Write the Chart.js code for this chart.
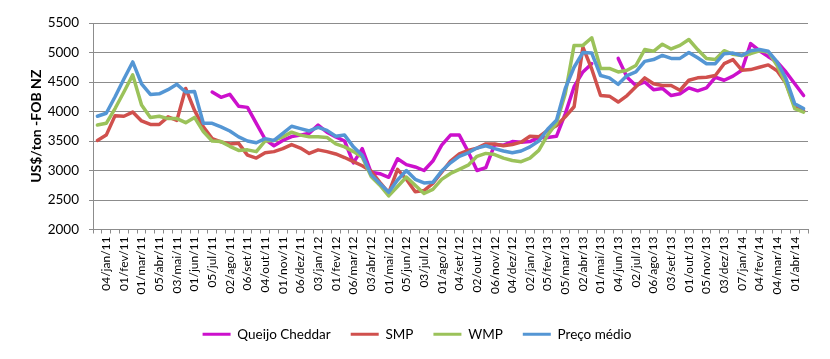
<!DOCTYPE html>
<html>
<head>
<meta charset="utf-8">
<script src="https://cdn.jsdelivr.net/npm/chart.js@4"></script>
<style>
  html, body { margin: 0; padding: 0; background: #fff; }
  canvas { display: block; }
</style>
</head>
<body>
<canvas id="chart" width="830" height="359"></canvas>
<script>
// Preços GDT quinzenais (US$/ton FOB NZ), dez/10 a abr/14

const dateLabels = [
  "04/jan/11", "01/fev/11", "01/mar/11", "05/abr/11", "03/mai/11", "01/jun/11", "05/jul/11", "02/ago/11",
  "06/set/11", "04/out/11", "01/nov/11", "06/dez/11", "03/jan/12", "01/fev/12", "06/mar/12", "03/abr/12",
  "01/mai/12", "05/jun/12", "03/jul/12", "01/ago/12", "04/set/12", "02/out/12", "06/nov/12", "04/dez/12",
  "02/jan/13", "05/fev/13", "05/mar/13", "02/abr/13", "01/mai/13", "04/jun/13", "02/jul/13", "06/ago/13",
  "03/set/13", "01/out/13", "05/nov/13", "03/dez/13", "07/jan/14", "04/fev/14", "04/mar/14", "01/abr/14",
];

// um leilão entre cada rótulo: só os ímpares levam data no eixo
const categories = [];
for (let i = 0; i < 81; i++) categories.push(i % 2 ? dateLabels[(i - 1) / 2] : "");

const cheddar = [
  null, null, null, null, null, null, null, null, null, null,
  null, null, null, 4330, 4240, 4290, 4090, 4070, 3800, 3530,
  3420, 3510, 3575, 3600, 3630, 3770, 3650, 3570, 3500, 3130,
  3370, 2970, 2945, 2885, 3200, 3100, 3060, 3000, 3160, 3430,
  3600, 3600, 3320, 3000, 3050, 3440, 3430, 3490, 3480, 3490,
  3560, 3560, 3580, 3960, 4420, 4670, 4810, null, null, 4900,
  4580, 4440, 4500, 4370, 4390, 4270, 4300, 4400, 4350, 4400,
  4580, 4530, 4600, 4700, 5150, 5030, 4930, 4840, 4670, 4470, 4270,
];
const smp = [
  3510, 3600, 3930, 3920, 3990, 3840, 3780, 3780, 3910, 3850,
  4390, 4020, 3740, 3540, 3485, 3450, 3460, 3260, 3210, 3300,
  3320, 3370, 3440, 3380, 3290, 3350, 3320, 3280, 3220, 3150,
  3080, 2990, 2800, 2620, 3020, 2850, 2640, 2660, 2780, 2970,
  3160, 3280, 3340, 3380, 3450, 3450, 3420, 3440, 3480, 3580,
  3570, 3680, 3760, 3910, 4080, 5090, 4720, 4270, 4260, 4160,
  4270, 4420, 4570, 4470, 4440, 4440, 4360, 4530, 4570, 4580,
  4610, 4810, 4880, 4700, 4710, 4750, 4790, 4690, 4480, 4080, 4010,
];
const wmp = [
  3770, 3800, 4050, 4330, 4620, 4110, 3900, 3920, 3880, 3880,
  3810, 3900, 3660, 3500, 3490, 3410, 3340, 3350, 3320, 3500,
  3510, 3570, 3650, 3600, 3570, 3570, 3560, 3450, 3400, 3320,
  3230, 2900, 2750, 2570, 2730, 2890, 2750, 2610, 2680, 2850,
  2950, 3020, 3090, 3240, 3290, 3270, 3210, 3170, 3150, 3210,
  3340, 3600, 3800, 4300, 5120, 5120, 5250, 4730, 4730, 4670,
  4700, 4780, 5050, 5020, 5140, 5060, 5120, 5220, 5050, 4900,
  4880, 5030, 4970, 4950, 4980, 5030, 5010, 4780, 4470, 4050, 3990,
];
const precoMedio = [
  3920, 3970, 4250, 4550, 4840, 4470, 4290, 4300, 4370, 4460,
  4330, 4340, 3800, 3800, 3740, 3670, 3570, 3500, 3470, 3540,
  3510, 3630, 3750, 3710, 3670, 3730, 3680, 3580, 3600, 3400,
  3260, 2930, 2780, 2630, 2840, 3000, 2850, 2790, 2800, 2990,
  3130, 3240, 3300, 3380, 3420, 3370, 3330, 3300, 3330, 3400,
  3500, 3700, 3850, 4390, 4750, 5000, 4990, 4610, 4570, 4460,
  4610, 4670, 4850, 4880, 4950, 4900, 4900, 5000, 4910, 4810,
  4810, 4980, 4990, 4950, 5030, 5050, 5020, 4840, 4560, 4130, 4050,
];

const GRID = "#8c8c8c";
const FONT = "Lato, 'Liberation Sans', sans-serif";

// Excel desenha a última série por cima: order menor = desenhado por último
function serie(label, data, color, order) {
  return {
    label, data, order,
    borderColor: color, backgroundColor: color,
    borderWidth: 3.5, pointRadius: 0, tension: 0,
    spanGaps: false, borderJoinStyle: "round", borderCapStyle: "round",
  };
}

const whiteBg = {
  id: "whiteBg",
  beforeDraw(c) {
    const ctx = c.ctx;
    ctx.save();
    ctx.fillStyle = "#fff";
    ctx.fillRect(0, 0, c.width, c.height);
    ctx.restore();
  },
};

new Chart(document.getElementById("chart"), {
  type: "line",
  data: {
    labels: categories,
    datasets: [
      serie("Queijo Cheddar", cheddar, "#cc10cc", 4),
      serie("SMP", smp, "#d0504d", 3),
      serie("WMP", wmp, "#9bc25a", 2),
      serie("Preço médio", precoMedio, "#5496d4", 1),
    ],
  },
  options: {
    responsive: false,
    animation: false,
    devicePixelRatio: 1,
    layout: { padding: { left: 26, right: 22, top: 23, bottom: 8 } },
    scales: {
      x: {
        type: "category",
        offset: true,
        afterFit: (s) => { s.height = 78; },
        grid: { offset: true, drawOnChartArea: false, drawTicks: true, tickLength: 4, color: GRID },
        border: { display: true, color: GRID },
        ticks: {
          autoSkip: false, maxRotation: 90, minRotation: 90, padding: 3,
          color: "#000", font: { family: FONT, size: 12 },
        },
      },
      y: {
        min: 2000, max: 5500,
        afterFit: (s) => { s.width = 67; },
        grid: { color: GRID, tickLength: 4 },
        border: { display: true, color: GRID },
        ticks: {
          stepSize: 500, padding: 10, color: "#000", font: { family: FONT, size: 13.5 },
          callback: (v) => String(v),
        },
        title: {
          display: true, text: "US$/ton -FOB NZ", color: "#000",
          font: { family: FONT, size: 14, weight: "bold" }, padding: { top: 2, bottom: 0 },
        },
      },
    },
    plugins: {
      tooltip: { enabled: false },
      legend: {
        position: "bottom",
        labels: {
          boxWidth: 28, boxHeight: 3, padding: 20, color: "#000",
          font: { family: FONT, size: 13.5 },
          sort: (a, b) => a.datasetIndex - b.datasetIndex,
          generateLabels: (chart) =>
            Chart.defaults.plugins.legend.labels.generateLabels(chart).map((l) => ({ ...l, lineWidth: 0 })),
        },
      },
    },
  },
  plugins: [whiteBg],
});
</script>
</body>
</html>
